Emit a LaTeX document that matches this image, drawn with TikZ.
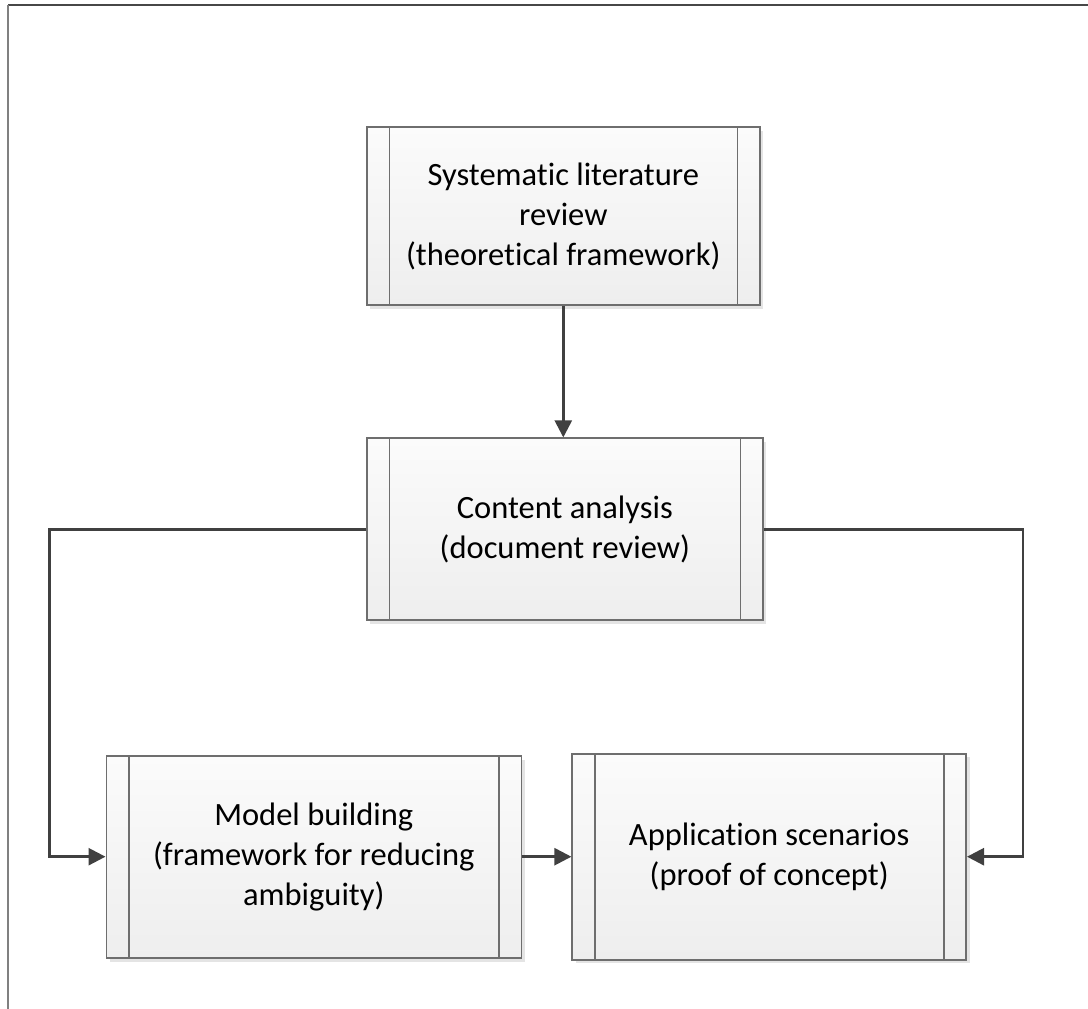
\documentclass[tikz,border=0pt]{standalone}
\usepackage{fontspec}
\setmainfont{Carlito}[Ligatures={NoCommon}]
\usetikzlibrary{arrows.meta,shadows}
\definecolor{edgegray}{RGB}{110,110,110}
\definecolor{linkgray}{RGB}{64,64,64}
\definecolor{topfill}{RGB}{251,251,251}
\definecolor{botfill}{RGB}{238,238,238}
\definecolor{shadowgray}{RGB}{228,228,228}
\tikzset{
  procbox/.style={draw=edgegray, line width=1.6pt, top color=topfill, bottom color=botfill,
    inner sep=0pt, align=center, font=\fontsize{32.5}{40}\selectfont,
    drop shadow={shadow xshift=3.5pt, shadow yshift=-3.5pt, fill=shadowgray, opacity=1},
    path picture={
      \draw[edgegray, line width=1.6pt]
        ([xshift=22.5pt]path picture bounding box.north west) -- ([xshift=22.5pt]path picture bounding box.south west)
        ([xshift=-22.5pt]path picture bounding box.north east) -- ([xshift=-22.5pt]path picture bounding box.south east);
    }},
  link/.style={draw=linkgray, line width=2.6pt, -{Triangle[length=17pt,width=17pt]}},
}
\begin{document}
\begin{tikzpicture}[x=1pt,y=-1pt]
\useasboundingbox (0,0) rectangle (1088,1009);
\fill[white] (0,0) rectangle (1088,1009);
\draw[line width=2pt, color=black!72] (8,4.5) -- (1088,4.5);
\draw[line width=1.6pt, color=black!50] (8,4.5) -- (8,1009);

\node[procbox, minimum width=393pt, minimum height=178pt] (b1) at (563.3,216.2)
  {Systematic literature\\review\\(theoretical framework)};
\node[procbox, minimum width=396pt, minimum height=182pt] (b2) at (564.8,529.2)
  {Content analysis\\(document review)};
\node[procbox, minimum width=415pt, minimum height=202pt] (b3) at (313.8,857.2)
  {Model building\\(framework for reducing\\ambiguity)};
\node[procbox, minimum width=394pt, minimum height=206pt] (b4) at (769.2,856.7)
  {Application scenarios\\(proof of concept)};

\coordinate (cl) at (49.3,856.7);
\coordinate (cr) at (1023,856.7);

\draw[link] (b1.south) -- (b1.south |- b2.north);
\draw[link] (b2.west) -| (cl) -- (cl -| b3.west);
\draw[link] (b2.east) -| (cr) -- (cr -| b4.east);
\draw[link] (b3.east |- cl) -- (b4.west |- cl);
\end{tikzpicture}
\end{document}
